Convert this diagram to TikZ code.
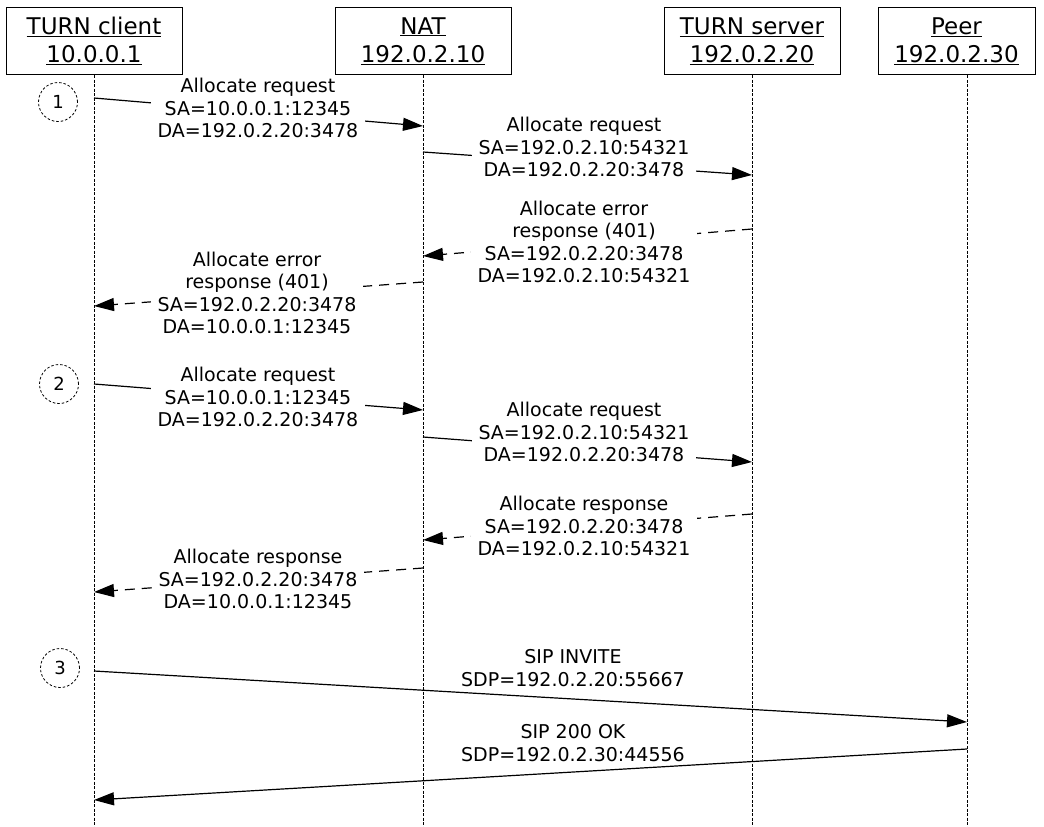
\documentclass[tikz,border=0pt]{standalone}
\usepackage{fontspec}
\setmainfont{DejaVu Sans}
\usetikzlibrary{arrows.meta,positioning}

\begin{document}
\begin{tikzpicture}[
    x=1pt, y=-1pt,
    >={Triangle[length=20pt,width=13pt]},
    actor/.style={draw, line width=1pt, minimum width=176pt, minimum height=67pt,
      inner sep=0pt, align=center, font=\fontsize{23}{28}\selectfont},
    life/.style={line width=0.8pt, dash pattern=on 3pt off 1.5pt},
    stepmark/.style={draw, circle, line width=0.8pt, dash pattern=on 2.5pt off 2pt,
      minimum size=39pt, inner sep=0pt, font=\fontsize{18}{18}\selectfont},
    msg/.style={fill=white, inner xsep=7pt, inner ysep=1pt, align=center,
      font=\fontsize{19}{22.5}\selectfont},
    req/.style={->, line width=1.2pt},
    resp/.style={->, line width=1.2pt, dash pattern=on 10pt off 7pt},
  ]
    \useasboundingbox (0,0) rectangle (1044,827);

    % Actors
    \node[actor] (client) at (94,41) {\underline{TURN client}\\\underline{10.0.0.1}};
    \node[actor, right=152pt of client] (nat) {\underline{NAT}\\\underline{192.0.2.10}};
    \node[actor, right=152pt of nat] (server) {\underline{TURN server}\\\underline{192.0.2.20}};
    \node[actor, right=37pt of server, minimum width=157pt] (peer) {\underline{Peer}\\\underline{192.0.2.30}};

    % Lifelines
    \coordinate (peertop) at ([xshift=10.5pt]peer.south);
    \draw[life] (client.south) -- (client.south |- 0,827);
    \draw[life] (nat.south) -- (nat.south |- 0,827);
    \draw[life] (server.south) -- (server.south |- 0,827);
    \draw[life] (peertop) -- (peertop |- 0,827);

    % Step marks
    \node[stepmark] (s1) at (58,102) {1};
    \node[stepmark] (s2) at (59,384) {2};
    \node[stepmark] (s3) at (60,668) {3};

    % Message end points on the lifelines
    \coordinate (m1a) at (client |- 0,98);   \coordinate (m1b) at (nat |- 0,126);
    \coordinate (m2a) at (nat |- 0,152);     \coordinate (m2b) at (server |- 0,175);
    \coordinate (m3a) at (server |- 0,229);  \coordinate (m3b) at (nat |- 0,256);
    \coordinate (m4a) at (nat |- 0,282);     \coordinate (m4b) at (client |- 0,306);
    \coordinate (m5a) at (client |- 0,384);  \coordinate (m5b) at (nat |- 0,410);
    \coordinate (m6a) at (nat |- 0,437);     \coordinate (m6b) at (server |- 0,462);
    \coordinate (m7a) at (server |- 0,514);  \coordinate (m7b) at (nat |- 0,540);
    \coordinate (m8a) at (nat |- 0,568);     \coordinate (m8b) at (client |- 0,592);
    \coordinate (m9a) at (client |- 0,671);  \coordinate (m9b) at (peertop |- 0,722);
    \coordinate (m10a) at (peertop |- 0,749); \coordinate (m10b) at (client |- 0,800);

    % Phase 1: first allocation, rejected
    \draw[req] (m1a) -- (m1b);
    \draw[req] (m2a) -- (m2b);
    \draw[resp] (m3a) -- (m3b);
    \draw[resp] (m4a) -- (m4b);
    \node[msg] (l1) at (258,108) {Allocate request\\SA=10.0.0.1:12345\\DA=192.0.2.20:3478};
    \node[msg] (l2) at (584,147) {Allocate request\\SA=192.0.2.10:54321\\DA=192.0.2.20:3478};
    \node[msg] (l3) at (584,242) {Allocate error\\response (401)\\SA=192.0.2.20:3478\\DA=192.0.2.10:54321};
    \node[msg] (l4) at (257,293) {Allocate error\\response (401)\\SA=192.0.2.20:3478\\DA=10.0.0.1:12345};

    % Phase 2: second allocation, accepted
    \draw[req] (m5a) -- (m5b);
    \draw[req] (m6a) -- (m6b);
    \draw[resp] (m7a) -- (m7b);
    \draw[resp] (m8a) -- (m8b);
    \node[msg] (l5) at (258,397) {Allocate request\\SA=10.0.0.1:12345\\DA=192.0.2.20:3478};
    \node[msg] (l6) at (584,432) {Allocate request\\SA=192.0.2.10:54321\\DA=192.0.2.20:3478};
    \node[msg] (l7) at (584,526) {Allocate response\\SA=192.0.2.20:3478\\DA=192.0.2.10:54321};
    \node[msg] (l8) at (258,579) {Allocate response\\SA=192.0.2.20:3478\\DA=10.0.0.1:12345};

    % Phase 3: SIP signalling with the peer
    \draw[req] (m9a) -- (m9b);
    \draw[req] (m10a) -- (m10b);
    \node[msg, fill=none] (l9) at (573,668) {SIP INVITE\\SDP=192.0.2.20:55667};
    \node[msg, fill=none] (l10) at (573,743) {SIP 200 OK\\SDP=192.0.2.30:44556};

  \end{tikzpicture}
\end{document}
